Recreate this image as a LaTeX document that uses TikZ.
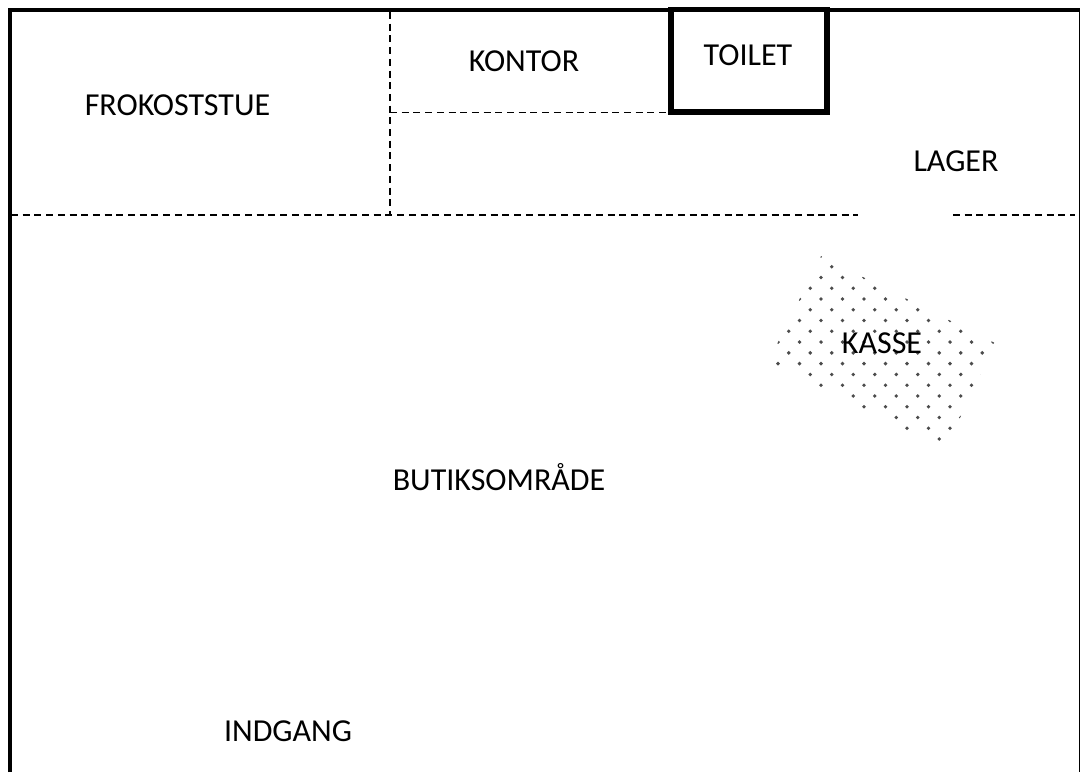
\documentclass[tikz,border=0pt]{standalone}
\usepackage{fontspec}
\setmainfont{Carlito}
\tikzset{
  wall/.style={draw=black,line width=4pt},
  toiletwall/.style={draw=black,line width=5.5pt,miter limit=10},
  partition/.style={draw=black,line width=1.8pt,dash pattern=on 7pt off 4.7pt},
  roomlabel/.style={font=\fontsize{32}{36}\selectfont,text=black,inner sep=0pt,anchor=center}
}
\begin{document}
\begin{tikzpicture}[x=1pt,y=-1pt]
\clip (0,0) rectangle (1080,772);
\useasboundingbox (0,0) rectangle (1080,772);
\fill[white] (0,0) rectangle (1080,772);
% kasse dots
\begin{scope}
\clip (821,256) -- (995,343) -- (945,450) -- (768,362) -- cycle;
\foreach \r in {0,...,18}{
  \pgfmathsetmacro{\yy}{255.93+10.77*\r}
  \pgfmathsetmacro{\off}{mod(\r,2)*10.75}
  \foreach \k in {-3,...,9}{
    \fill[black!70] ({821+\off+21.5*\k},\yy) circle[radius=1.9pt];
  }
}
\end{scope}
% walls
\coordinate (bl) at (9.5,772);
\coordinate (tl) at (9.5,9.5);
\coordinate (tr) at (1079.5,9.5);
\coordinate (br) at (1079.5,772);
\draw[wall] (bl) -- (tl) -- (1080,9.5);
\draw[line width=1.5pt] (tr) -- (br);
\draw[toiletwall] (671,9.5) rectangle (827,112);
% partitions
\coordinate (a1) at (11,215);
\coordinate (a2) at (858,215);
\coordinate (a3) at (953,215);
\coordinate (a4) at (1075,215);
\coordinate (v1) at (390,12);
\coordinate (v2) at (390,215);
\coordinate (k1) at (390,112.5);
\coordinate (k2) at (668,112.5);
\draw[partition] (a1) -- (a2);
\draw[partition] (a3) -- (a4);
\draw[partition] (v1) -- (v2);
\draw[partition] (k1) -- (k2);
% labels
\node[roomlabel] (frokost) at (177.5,105) {FROKOSTSTUE};
\node[roomlabel] (kontor) at (524,61) {KONTOR};
\node[roomlabel] (toilet) at (748,55) {TOILET};
\node[roomlabel] (lager) at (956,161) {LAGER};
\node[roomlabel] (kasse) at (882,343) {KASSE};
\node[roomlabel] (butik) at (499,477) {BUTIKSOMRÅDE};
\node[roomlabel] (indgang) at (288,731) {INDGANG};
\end{tikzpicture}
\end{document}
